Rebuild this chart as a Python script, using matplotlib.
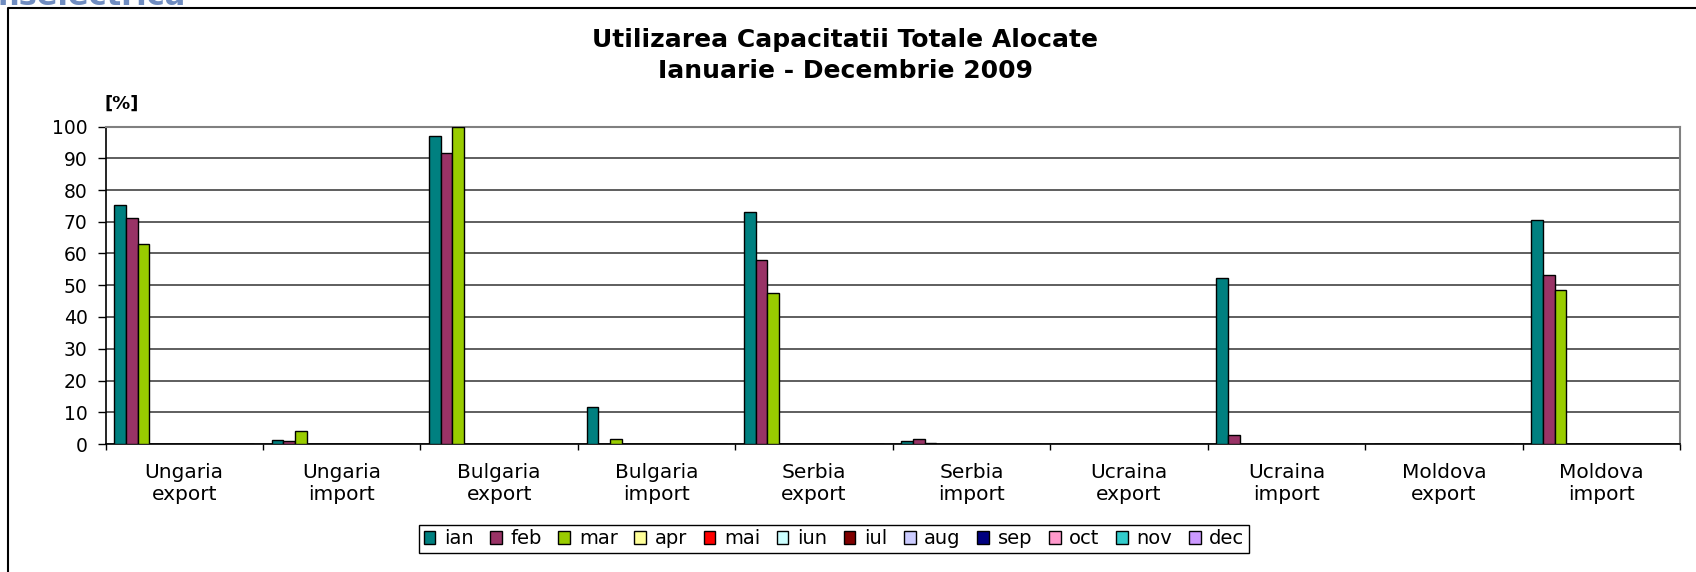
import matplotlib.pyplot as plt
from matplotlib.lines import Line2D
import numpy as np

plt.rcParams['font.family'] = ['DejaVu Sans']

categories = ['Ungaria\nexport', 'Ungaria\nimport', 'Bulgaria\nexport', 'Bulgaria\nimport',
              'Serbia\nexport', 'Serbia\nimport', 'Ucraina\nexport', 'Ucraina\nimport',
              'Moldova\nexport', 'Moldova\nimport']
months = ['ian', 'feb', 'mar', 'apr', 'mai', 'iun', 'iul', 'aug', 'sep', 'oct', 'nov', 'dec']

ian = [75.3, 1.3, 97.0, 11.5, 73.2, 0.9, 0.0, 52.3, 0.0, 70.6]
feb = [71.3, 0.8, 91.8, 0.0, 57.8, 1.7, 0.0, 2.8, 0.0, 53.1]
mar = [63.0, 4.2, 100.0, 1.7, 47.6, 0.3, 0.0, 0.0, 0.0, 48.6]
apr = [0, 0, 0, 0, 0, 0, 0, 0, 0, 0]
mai = [0, 0, 0, 0, 0, 0, 0, 0, 0, 0]
iun = [0, 0, 0, 0, 0, 0, 0, 0, 0, 0]
iul = [0, 0, 0, 0, 0, 0, 0, 0, 0, 0]
aug = [0, 0, 0, 0, 0, 0, 0, 0, 0, 0]
sep = [0, 0, 0, 0, 0, 0, 0, 0, 0, 0]
oct_ = [0, 0, 0, 0, 0, 0, 0, 0, 0, 0]
nov = [0, 0, 0, 0, 0, 0, 0, 0, 0, 0]
dec = [0, 0, 0, 0, 0, 0, 0, 0, 0, 0]
series = [ian, feb, mar, apr, mai, iun, iul, aug, sep, oct_, nov, dec]

colors = ['#008080', '#993366', '#99CC00', '#FFFF99', '#FF0000', '#CCFFFF',
          '#800000', '#CCCCFF', '#000080', '#FF99CC', '#33CCCC', '#CC99FF']

W, H = 1696, 572
fig = plt.figure(figsize=(W / 100, H / 100), dpi=100)
ax = fig.add_axes([105.5 / W, (H - 444) / H, (1680 - 105.5) / W, (444 - 126.5) / H])

n = len(months)
w = 1 / 13.5
x = np.arange(len(categories))
for j, (m, vals, c) in enumerate(zip(months, series, colors)):
    ax.bar(x + (j - (n - 1) / 2) * w, vals, w, color=c, edgecolor='black',
           linewidth=1.0, label=m, zorder=3)

ax.set_xlim(-0.5, len(categories) - 0.5)
ax.set_ylim(0, 100)
ax.set_yticks(range(0, 101, 10))
ax.yaxis.grid(True, color='#333333', linewidth=1.1, zorder=0)
ax.set_axisbelow(True)

ax.set_xticks(np.arange(-0.5, len(categories), 1))
ax.set_xticks(x, minor=True)
ax.set_xticklabels(categories, minor=True, fontsize=14.5, linespacing=1.2)
ax.tick_params(axis='x', which='major', labelbottom=False, length=4.5, width=1, direction='out')
ax.tick_params(axis='x', which='minor', length=0, pad=13.5)
ax.tick_params(axis='y', length=5.8, width=1, direction='out', labelsize=13.5, pad=7)

for s in ['left', 'bottom']:
    ax.spines[s].set_color('black')
    ax.spines[s].set_linewidth(1.2)
for s in ['top', 'right']:
    ax.spines[s].set_color('#808080')
    ax.spines[s].set_linewidth(1.5)

fig.text(122 / W, 1 - 104 / H, '[%]', fontsize=13, fontweight='bold', ha='center', va='center')
fig.text(845 / W, 1 - 40 / H, 'Utilizarea Capacitatii Totale Alocate', fontsize=18,
         fontweight='bold', ha='center', va='center')
fig.text(845 / W, 1 - 71 / H, 'Ianuarie - Decembrie 2009', fontsize=18,
         fontweight='bold', ha='center', va='center')

# bucata din sigla, taiata sus
fig.text(-3 / W, 1 - 5 / H, 'nselectrica', fontsize=22, fontweight='bold',
         color='#6f8cc0', ha='left', va='baseline')

# chenarul zonei graficului
fig.add_artist(Line2D([7.5 / W, 7.5 / W, 1], [0, 1 - 8 / H, 1 - 8 / H],
                      transform=fig.transFigure, color='black', linewidth=1.5))

leg = fig.legend(loc='center', bbox_to_anchor=(834 / W, (H - 539) / H), ncol=12,
                 fontsize=14, handlelength=0.6, handleheight=0.6, handletextpad=0.45,
                 columnspacing=0.85, borderpad=0.25, fancybox=False, framealpha=1,
                 edgecolor='black')
leg.get_frame().set_linewidth(1.0)

fig.savefig('out.png', dpi=100)
